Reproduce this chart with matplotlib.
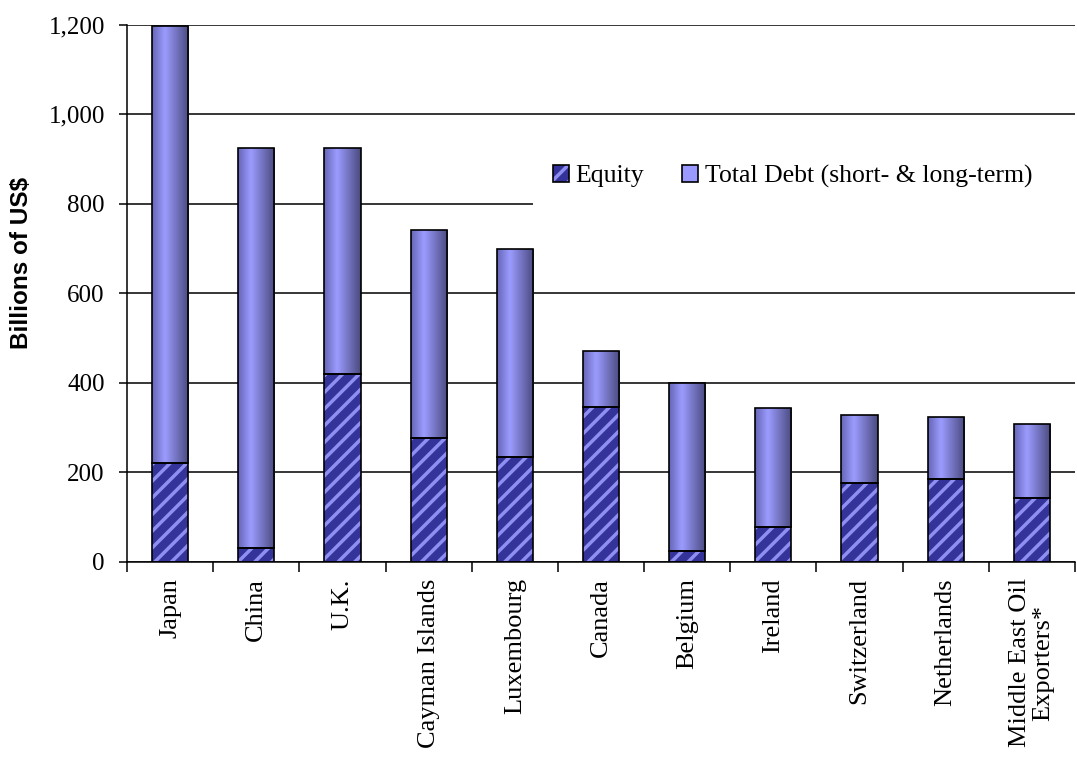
import numpy as np
import matplotlib
matplotlib.use('Agg')  # no display
import matplotlib.pyplot as plt
from matplotlib.patches import Patch, Rectangle
from matplotlib.ticker import FuncFormatter, FixedLocator

# data (billions of US$)
countries = ['Japan', 'China', 'U.K.', 'Cayman Islands', 'Luxembourg', 'Canada',
             'Belgium', 'Ireland', 'Switzerland', 'Netherlands',
             'Middle East Oil\nExporters*']
equity = [221, 30, 419, 276, 235, 346, 25, 78, 176, 186, 142]
total_debt = [977, 895, 506, 465, 465, 125, 375, 265, 153, 138, 165]
y_ticks = [0, 200, 400, 600, 800, 1000, 1200]

serif = 'Liberation Serif'
plt.rcParams['hatch.linewidth'] = 2.5

fig = plt.figure(figsize=(10.77, 7.57), dpi=100)
ax = fig.add_axes([0.118, 0.258, 0.880, 0.709])

x = np.arange(len(countries))
width = 0.42

# equity: dark blue with light diagonal stripes
ax.bar(x, equity, width, color='#333399', edgecolor='#8f8ff2', hatch='//',
       linewidth=0, zorder=2)
ax.bar(x, equity, width, fill=False, edgecolor='black', linewidth=1.2, zorder=2.3)

# total debt on top, with a horizontal shading like the original
debt_bars = ax.bar(x, total_debt, width, bottom=equity, color='#9999ff',
                   edgecolor='none', linewidth=0, zorder=2)
stops = [0.0, 0.35, 1.0]
shade = np.linspace(0, 1, 64)
grad = np.stack([np.interp(shade, stops, [0.40, 0.61, 0.29]),
                 np.interp(shade, stops, [0.40, 0.61, 0.29]),
                 np.interp(shade, stops, [0.72, 1.00, 0.50])], axis=-1)[None, :, :]
for bar in debt_bars:
    x0, y0 = bar.get_x(), bar.get_y()
    im = ax.imshow(grad, extent=[x0, x0 + bar.get_width(), y0, y0 + bar.get_height()],
                   aspect='auto', interpolation='bilinear', zorder=2.1)
    im.set_clip_path(bar)
ax.bar(x, total_debt, width, bottom=equity, fill=False, edgecolor='black',
       linewidth=1.2, zorder=2.3)

ax.set_xlim(-0.5, len(countries) - 0.5)
ax.set_ylim(0, 1200)

# axes styling
ax.set_axisbelow(True)
ax.yaxis.grid(True, color='black', linewidth=1.1)
for side in ['top', 'right']:
    ax.spines[side].set_visible(False)
for side in ['left', 'bottom']:
    ax.spines[side].set_linewidth(1.1)

ax.set_yticks(y_ticks)
ax.yaxis.set_major_formatter(FuncFormatter(lambda v, p: f'{int(v):,}'))
ax.tick_params(axis='y', direction='out', length=6, width=1.1, pad=10,
               labelsize=18)
for lab in ax.get_yticklabels():
    lab.set_fontfamily(serif)

ax.set_xticks(x)
ax.set_xticklabels(countries, rotation=90, fontsize=19, family=serif,
                   va='top', ha='center', multialignment='center', linespacing=1.1)
ax.tick_params(axis='x', which='major', length=0, pad=12)
ax.xaxis.set_minor_locator(FixedLocator(np.arange(-0.5, len(countries), 1.0)))
ax.tick_params(axis='x', which='minor', direction='out', length=7, width=1.1)

fig.text(22 / 1077, 1 - 263 / 757, 'Billions of US$', rotation=90, ha='center',
         va='center', fontsize=17.5, fontweight='bold', family='Liberation Sans')

# white area behind the legend hides the gridline
ax.add_patch(Rectangle((0.428, 0.651), 0.58, 0.13, transform=ax.transAxes,
                       facecolor='white', edgecolor='none', zorder=1, clip_on=False))

eq_handle = (Patch(facecolor='#333399', edgecolor='#8f8ff2', hatch='//', linewidth=0),
             Patch(fill=False, edgecolor='black', linewidth=1.2))
debt_handle = Patch(facecolor='#9999ff', edgecolor='black', linewidth=1.2)
ax.legend([eq_handle, debt_handle], ['Equity', 'Total Debt (short- & long-term)'],
          loc='center left', bbox_to_anchor=(0.449, 0.718), ncol=2, frameon=False,
          borderpad=0, borderaxespad=0, handlelength=0.62, handleheight=0.62,
          handletextpad=0.25, columnspacing=1.5,
          prop={'family': serif, 'size': 18.5})

fig.savefig('out.png', dpi=100)
plt.close(fig)
